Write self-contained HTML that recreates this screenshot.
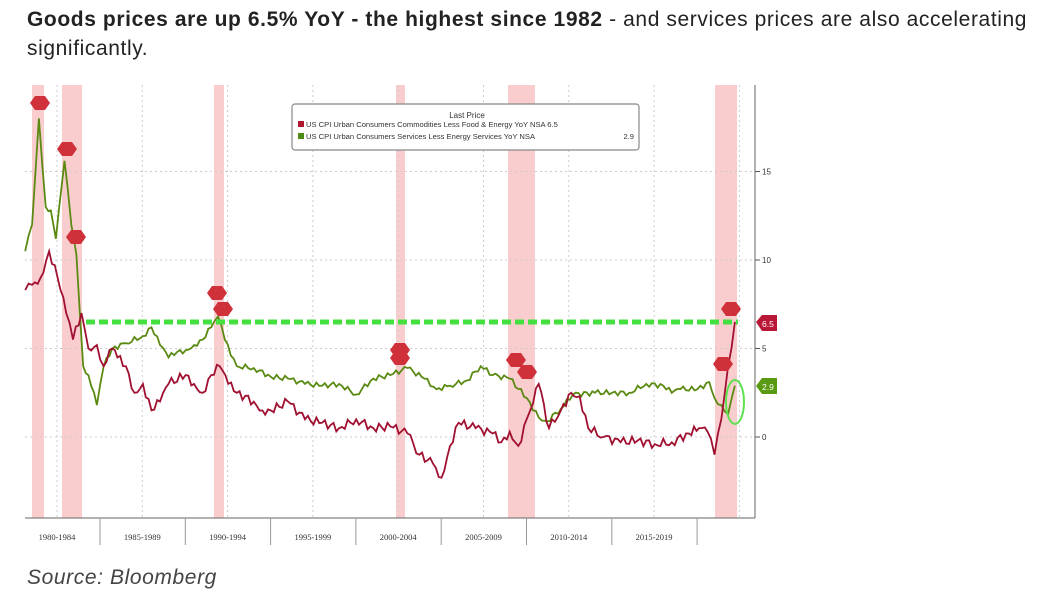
<!DOCTYPE html>
<html><head><meta charset="utf-8"><style>
body{margin:0;background:#fff;width:1058px;height:609px;overflow:hidden;font-family:"Liberation Sans",Arial,sans-serif}
.h{position:absolute;left:27px;top:5px;width:1040px;font-size:21px;letter-spacing:0.6px;line-height:29px;color:#222;white-space:nowrap}
.s{position:absolute;left:27px;top:566px;font-size:21px;letter-spacing:0.6px;font-style:italic;color:#444}
svg{position:absolute;left:0;top:0}
</style></head><body>
<div class="h"><b>Goods prices are up 6.5% YoY - the highest since 1982</b> - and services prices are also accelerating<br>significantly.</div>
<svg id="c" width="1058" height="609"></svg>
<div class="s">Source: Bloomberg</div>
<script>
const X=y=>15+17.06*(y-1980), Y=v=>437-17.7*v;
let s='';
[[32,44],[62,82],[214,224],[396,405],[508,535],[715,737]].forEach(r=>{s+=`<rect x="${r[0]}" y="85" width="${r[1]-r[0]}" height="433" fill="#f8c4c4" opacity="0.85"/>`});
for(let i=0;i<9;i++){let x=57+85.3*i;s+=`<line x1="${x}" y1="85" x2="${x}" y2="518" stroke="#ccc" stroke-dasharray="2,3"/>`}
[15,10,5,0].forEach(v=>{s+=`<line x1="25" y1="${Y(v)}" x2="755" y2="${Y(v)}" stroke="#ccc" stroke-dasharray="2,3"/><line x1="755" y1="${Y(v)}" x2="760" y2="${Y(v)}" stroke="#555"/><text x="762" y="${Y(v)+3}" font-size="8" fill="#333">${v}</text>`});
s+=`<line x1="755" y1="85" x2="755" y2="518" stroke="#666"/><line x1="25" y1="518" x2="755" y2="518" stroke="#666"/>`;
for(let i=0;i<8;i++){let x=100+85.3*i;s+=`<line x1="${x}" y1="518" x2="${x}" y2="545" stroke="#999"/>`}
['1980-1984','1985-1989','1990-1994','1995-1999','2000-2004','2005-2009','2010-2014','2015-2019'].forEach((t,i)=>{s+=`<text x="${57+85.3*i}" y="540" font-size="8.5" text-anchor="middle" fill="#333" font-family="Liberation Serif">${t}</text>`});
const g=[[1980.6,10.5],[1981,12],[1981.4,18],[1981.8,13],[1982.1,12.8],[1982.4,11.2],[1982.9,15.6],[1983.3,12],[1983.6,10.3],[1984,4],[1984.3,3.5],[1984.8,1.8],[1985.2,4],[1985.7,5],[1986.5,5.3],[1987.5,5.7],[1988,6.2],[1988.5,5.2],[1989,4.5],[1989.5,4.8],[1990,4.9],[1990.5,5.2],[1991,5.5],[1991.5,6.2],[1991.9,6.8],[1992.3,5.5],[1993,4],[1994,3.9],[1995,3.4],[1996,3.3],[1997,3],[1998,2.9],[1999,3],[2000,2.4],[2001,3.3],[2002,3.5],[2003,3.9],[2004,3.3],[2004.7,2.7],[2005.5,2.9],[2006.5,3.2],[2007.3,4],[2008,3.5],[2009,3.3],[2010,2.2],[2010.7,1.1],[2011.2,0.9],[2012,1.6],[2012.7,2.4],[2014,2.5],[2015,2.5],[2016,2.5],[2017,3],[2018,2.9],[2018.5,2.5],[2019,2.7],[2020,2.7],[2020.7,3.1],[2021,2.2],[2021.4,1.8],[2021.8,1.3],[2022.2,2.9]];
const r=[[1980.6,8.3],[1981,8.6],[1981.5,9],[1982,10.5],[1982.5,9],[1983,7],[1983.4,5.5],[1983.9,7],[1984.3,5],[1984.8,5.2],[1985.2,4],[1985.7,5],[1986,4.5],[1986.5,4],[1987,2.5],[1987.5,3],[1988,1.5],[1988.5,2],[1989,3],[1990,3.5],[1990.5,3],[1991,2.5],[1991.5,3.5],[1992,4],[1992.5,3],[1993,2.5],[1994,2],[1994.5,1.5],[1995,1.5],[1996,2],[1997,1],[1998,0.8],[1999,0.5],[2000,1],[2001,0.5],[2002,0.6],[2003,0.2],[2003.7,-1],[2004.5,-1.5],[2005,-2.3],[2005.5,-0.5],[2006,0.8],[2007,0.5],[2008,0.2],[2008.5,-0.3],[2009,0.3],[2009.5,-0.5],[2010.2,1.5],[2010.7,3],[2011.3,0.5],[2012,1.5],[2012.6,2.5],[2013.1,2.3],[2013.6,0.5],[2014.5,0],[2015.5,-0.3],[2016.5,-0.2],[2017.5,-0.4],[2018.5,-0.3],[2019.5,0.2],[2020.1,0.5],[2020.6,0.3],[2021,-1],[2021.4,1],[2021.8,4],[2022.2,6.5]];
const jit=(a,amp)=>{let o=[];for(let i=0;i<a.length-1;i++){let [x0,y0]=a[i],[x1,y1]=a[i+1];let n=Math.max(1,Math.round((x1-x0)*6));for(let k=0;k<n;k++){let t=k/n;o.push([X(x0+(x1-x0)*t),Y(y0+(y1-y0)*t+(k?amp*Math.sin(i*7.3+k*2.1):0))])}}let l=a[a.length-1];o.push([X(l[0]),Y(l[1])]);return o.map(p=>p[0].toFixed(1)+','+p[1].toFixed(1)).join(' ')};
s+=`<polyline points="${jit(g,0.15)}" fill="none" stroke="#5a8a12" stroke-width="1.8"/>`;
s+=`<polyline points="${jit(r,0.25)}" fill="none" stroke="#a01030" stroke-width="1.8"/>`;
s+=`<line x1="86" y1="${Y(6.5)}" x2="738" y2="${Y(6.5)}" stroke="#44e040" stroke-width="5" stroke-dasharray="9,4"/>`;
s+=`<ellipse cx="735" cy="402" rx="9" ry="22" fill="none" stroke="#5ee050" stroke-width="2"/>`;
[[40,103],[67,149],[76,237],[217,293],[223,309],[400,350],[400,358],[516,360],[527,372],[723,364],[731,309]].forEach(p=>{s+=`<polygon points="${p[0]-10},${p[1]} ${p[0]-5},${p[1]-7} ${p[0]+5},${p[1]-7} ${p[0]+10},${p[1]} ${p[0]+5},${p[1]+7} ${p[0]-5},${p[1]+7}" fill="#d0303a"/>`});
s+=`<polygon points="756,${Y(6.5)} 762,315 777,315 777,331 762,331" fill="#b81836"/><text x="762" y="327" font-size="8.5" fill="#fff">6.5</text>`;
s+=`<polygon points="756,386 762,378 777,378 777,394 762,394" fill="#5a9a12"/><text x="762" y="390" font-size="8.5" fill="#fff">2.9</text>`;
s+=`<rect x="292" y="104" width="347" height="46" rx="3" fill="#fff" stroke="#888" stroke-width="1.2"/>`;
s+=`<text x="467" y="118" font-size="8" text-anchor="middle" fill="#333">Last Price</text>`;
s+=`<rect x="298" y="121" width="6" height="6" fill="#b01830"/><text x="306" y="127" font-size="7.6" fill="#333">US CPI Urban Consumers Commodities Less Food &amp; Energy YoY NSA 6.5</text>`;
s+=`<rect x="298" y="133" width="6" height="6" fill="#4f8a12"/><text x="306" y="139" font-size="7.6" fill="#333">US CPI Urban Consumers Services Less Energy Services YoY NSA</text><text x="634" y="139" font-size="7.6" fill="#333" text-anchor="end">2.9</text>`;
document.getElementById('c').innerHTML=s;
</script>
</body></html>
